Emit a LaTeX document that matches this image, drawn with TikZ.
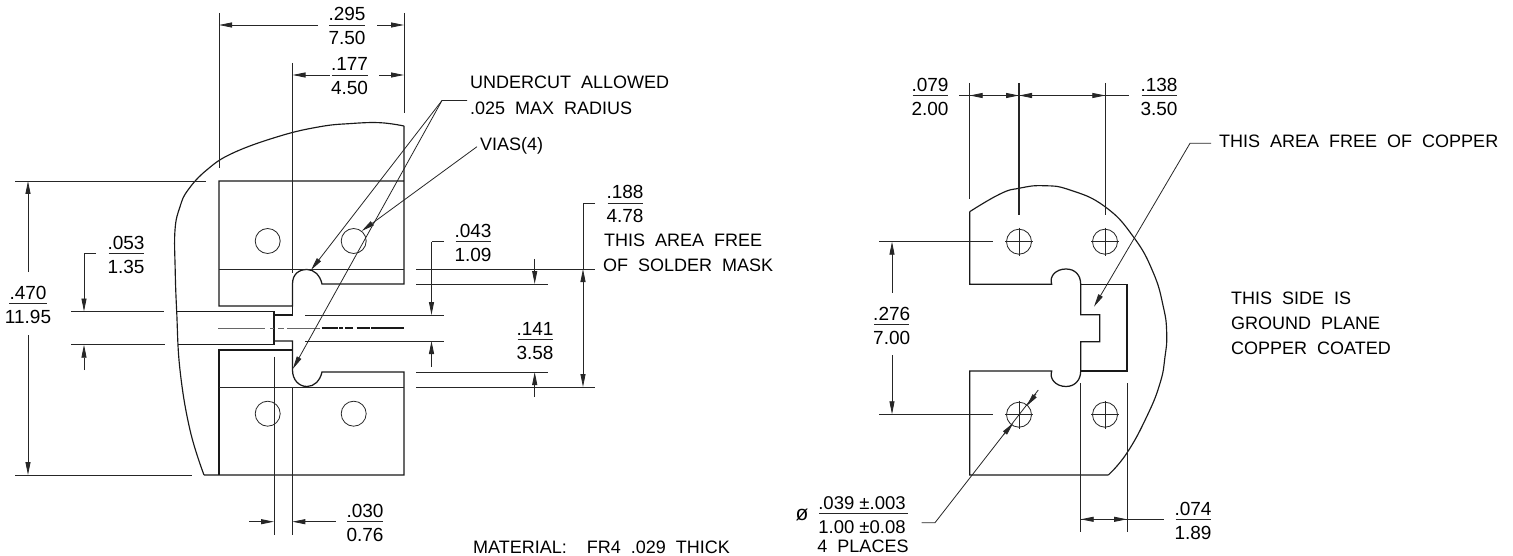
\documentclass[tikz,border=0pt]{standalone}
\usepackage{fontspec}
\setmainfont{Liberation Sans}
\usetikzlibrary{arrows.meta}
\newcommand{\stacked}[6]{% name, x, ybar, half width, top, bottom
  \node[numtxt] (#1t) at (#2,#3-4) {#5};
  \node[numtxt] (#1b) at (#2,#3+20) {#6};
  \draw[thin line] (#2-#4,#3) -- (#2+#4,#3);
}
\newcommand{\widesp}{\spaceskip=10pt plus 0pt minus 0pt\relax}
\tikzset{
  thin line/.style={line width=0.8pt,black!85},
  outline/.style={line width=1.25pt,black!90,line join=miter},
  tipline/.style={line width=0.8pt,black!85,-{Triangle[length=13pt,width=5pt]}},
  numtxt/.style={anchor=base,inner sep=0pt,font=\fontsize{19}{19}\selectfont},
  lbl/.style={anchor=base west,inner sep=0pt,font=\fontsize{18}{19}\selectfont\widesp},
}
\begin{document}
\begin{tikzpicture}[x=1pt,y=-1pt]
\useasboundingbox (0,0) rectangle (1513,556);
% ---------- LEFT PART ----------
\draw[outline] (404,126) -- (404,181) -- (219,181) -- (219,306) -- (292.5,306) -- (292.5,284)
  .. controls (292.5,274) and (299,269.5) .. (307,269.5) .. controls (314,269.5) and (320,275) .. (322,284)
  -- (404,284) -- (404,181);
\draw[outline] (292.5,306) -- (292.5,315) -- (274,315);
\draw[outline] (176.5,311.5) -- (274,311.5) -- (274,344.7) -- (178,344.7);
\draw[outline] (274,341) -- (292.5,341) -- (292.5,370)
  .. controls (292.5,380) and (299,386.5) .. (307,386.5) .. controls (314,386.5) and (320,381) .. (322,372)
  -- (404,372) -- (404,475) -- (204,475);
\draw[outline] (219,475) -- (219,350) -- (292.5,350);
\draw[line width=1.15pt,black!90] plot[smooth,tension=0.7] coordinates {(404,126) (380,122.7) (350,123.6) (320,126.7) (280,136) (233,153) (206.7,170) (188,190) (180,206.7) (175,230) (175.2,270) (176.7,311.7) (180,370) (190,430) (204,475)};
\draw[thin line] (219,269) -- (404,269) (219,387) -- (404,387);
\draw[thin line,black!60] (218,328) -- (265,328) (270,328) -- (274,328) (278,328) -- (284,328) (287,328) -- (320,328);
\draw[outline] (321.7,328) -- (338.3,328) (339.3,328) -- (343.3,328) (345,328) -- (353,328) (356.7,328) -- (370,328) (371,328) -- (404,328);
\foreach \cx/\cy in {267.7/241,353.7/241,267.7/413.7,353.7/413.7}
  \draw[thin line] (\cx,\cy) circle[radius=12.5pt];
% .470
\draw[thin line] (15,181) -- (206,181) (15,475) -- (192,475);
\draw[tipline] (28,272) -- (28,181);
\draw[tipline] (28,335) -- (28,475);
\stacked{a}{28}{303.5}{19}{.470}{11.95}
% .053
\draw[thin line] (71,311.5) -- (164,311.5) (71,344.7) -- (165,344.7);
\draw[thin line] (96,253.3) -- (84,253.3);
\draw[tipline] (84,253.3) -- (84,311.5);
\draw[tipline] (84,370) -- (84,344.7);
\stacked{b}{126}{253.5}{17.5}{.053}{1.35}
% .295
\draw[thin line] (219,13) -- (219,168) (404,13) -- (404,113);
\draw[tipline] (318,25) -- (219,25);
\draw[tipline] (377,25) -- (404,25);
\stacked{c}{347}{25}{18}{.295}{7.50}
% .177
\draw[thin line] (292.5,63) -- (292.5,273);
\draw[tipline] (330,75) -- (292.5,75);
\draw[tipline] (379,75) -- (404,75);
\stacked{d}{349.5}{75}{18}{.177}{4.50}
% undercut leader
\draw[tipline] (467,100.5) -- (442,100.5) -- (311,270);
\draw[tipline] (442,100.5) -- (292.8,369);
\node[lbl] (undercut) at (470,89) {UNDERCUT ALLOWED};
\node[lbl] (radius) at (470,115) {.025 MAX RADIUS};
% vias
\draw[tipline] (477,146.7) -- (361.7,231);
\node[lbl] (vias) at (480,151) {VIAS(4)};
% .030
\draw[thin line] (274,356.7) -- (274,535) (292.3,387) -- (292.3,535);
\draw[tipline] (249,521.7) -- (274,521.7);
\draw[tipline] (335.7,521.7) -- (292.3,521.7);
\stacked{e}{365}{521.7}{18}{.030}{0.76}
% .043
\draw[thin line] (305,315) -- (444,315) (305,341) -- (444,341) (444,241.7) -- (431.5,241.7);
\draw[tipline] (431.5,241.7) -- (431.5,315);
\draw[tipline] (431.5,366.7) -- (431.5,341);
\stacked{f}{473}{241.7}{17.5}{.043}{1.09}
% .141 and .188
\draw[thin line] (416,269) -- (595,269) (416,284) -- (547.5,284) (416,372) -- (547.5,372) (416,387) -- (595,387);
\draw[tipline] (534.7,259) -- (534.7,284);
\draw[tipline] (534.7,397) -- (534.7,372);
\stacked{g}{535}{339}{17.5}{.141}{3.58}
\draw[thin line] (595,203.3) -- (583,203.3) -- (583,269);
\draw[tipline] (583,300) -- (583,269);
\draw[tipline] (583,300) -- (583,387);
\stacked{h}{625}{203}{17.5}{.188}{4.78}
\node[lbl] (t1) at (604,247) {THIS AREA FREE};
\node[lbl] (t2) at (603,272) {OF SOLDER MASK};
\node[lbl] (t3) at (473,553) {MATERIAL:\hspace{20pt}FR4 .029 THICK};
% ---------- RIGHT PART ----------
\draw[outline] (1108.3,475) -- (969.7,475) -- (969.7,371) -- (1051.7,371)
  .. controls (1049,379) and (1056,386.5) .. (1066,386.5) .. controls (1075,386.5) and (1080.7,380) .. (1080.7,371)
  -- (1080.7,341.7) -- (1099.7,341.7) -- (1099.7,314.7) -- (1080.7,314.7) -- (1080.7,284.3)
  .. controls (1080.7,275) and (1075,269) .. (1066,269) .. controls (1056,269) and (1049,276) .. (1051.7,284.3)
  -- (969.7,284.3) -- (969.7,211.7);
\draw[outline] (1080.7,284.3) -- (1127,284.3) -- (1127,371) -- (1080.7,371);
\draw[line width=1.15pt,black!90] plot[smooth,tension=0.8] coordinates {(969.7,211.7) (1000,194) (1019,188.3) (1043.3,185.7) (1070,190) (1105,206.7) (1133.3,236.7) (1153,272) (1163.3,306.7) (1166.7,333) (1165,356.7) (1160,383.3) (1146.7,416.7) (1126.7,453.3) (1108.3,475)};
\foreach \cx/\cy in {1019/241.7,1105/241.7,1019/414.7,1105/414.7}{
  \draw[thin line] (\cx,\cy) circle[radius=12.5pt];
  \draw[thin line] (\cx-14,\cy) -- (\cx+14,\cy) (\cx,\cy-14) -- (\cx,\cy+14);
}
% .079 .138
\draw[thin line] (969.7,83) -- (969.7,199) (1105.3,83) -- (1105.3,215);
\draw[line width=1.2pt,black!85] (1019,83) -- (1019,215);
\draw[thin line] (959,95.5) -- (1129,95.5);
\draw[tipline] (983,95.5) -- (969.7,95.5);
\draw[tipline] (1006,95.5) -- (1019,95.5);
\draw[tipline] (1032,95.5) -- (1019,95.5);
\draw[tipline] (1092.5,95.5) -- (1105.3,95.5);
\stacked{i}{930}{95.5}{17.5}{.079}{2.00}
\stacked{j}{1159}{95.5}{17.5}{.138}{3.50}
% free of copper
\draw[tipline] (1211,143.3) -- (1190,143.3) -- (1094,306.7);
\node[lbl] (t4) at (1219,148) {THIS AREA FREE OF COPPER};
\node[lbl] (t5) at (1231,304) {THIS SIDE IS};
\node[lbl] (t6) at (1231,329) {GROUND PLANE};
\node[lbl] (t7) at (1231,354) {COPPER COATED};
% .276
\draw[thin line] (879.3,241.7) -- (993,241.7) (879.3,414.3) -- (993,414.3);
\draw[tipline] (892,292.7) -- (892,241.7);
\draw[tipline] (892,355) -- (892,414.3);
\stacked{k}{891.7}{324}{17.5}{.276}{7.00}
% .074
\draw[thin line] (1080.7,383) -- (1080.7,531.7) (1127,383) -- (1127,531.7);
\draw[thin line] (1080.7,519.3) -- (1164.3,519.3);
\draw[tipline] (1094,519.3) -- (1080.7,519.3);
\draw[tipline] (1114,519.3) -- (1127,519.3);
\stacked{l}{1193}{519.3}{17.5}{.074}{1.89}
% diameter
\draw[thin line] (921.7,522.7) -- (935,522.7) -- (1038.3,390);
\draw[tipline] (1036,394) -- (1026.7,406);
\draw[tipline] (1003.3,435) -- (1013.3,423);
\node[numtxt] (phi) at (802,520) {\fontsize{21}{21}\selectfont ø};
\node[numtxt] (d1) at (862,509) {\fontsize{18.5}{19}\selectfont .039 ±.003};
\draw[thin line] (819,513.3) -- (908,513.3);
\node[numtxt] (d2) at (862,533) {\fontsize{18.5}{19}\selectfont 1.00 ±0.08};
\node[lbl,anchor=base] (d3) at (863,552) {4 PLACES};
\end{tikzpicture}
\end{document}
